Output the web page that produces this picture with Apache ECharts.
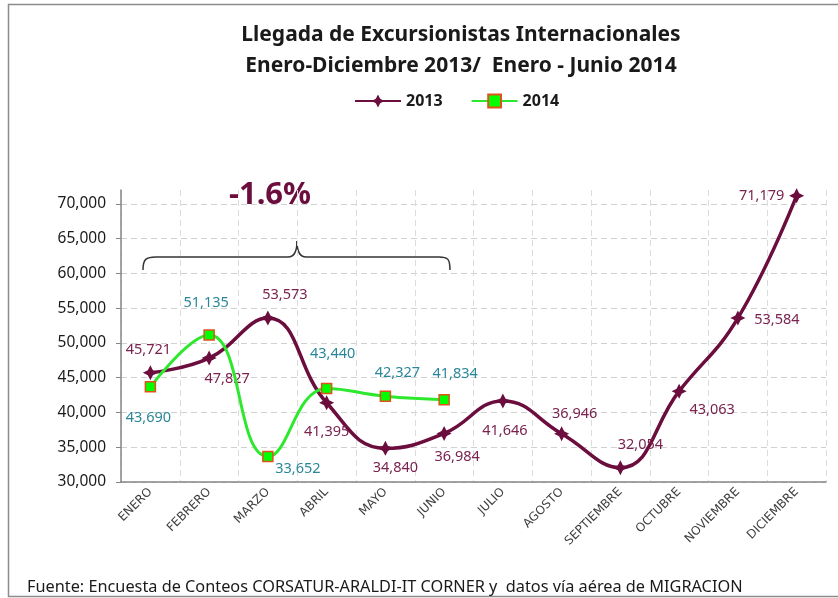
<!DOCTYPE html>
<html>
<head>
<meta charset="utf-8">
<script src="https://cdn.jsdelivr.net/npm/echarts@6/dist/echarts.min.js"></script>
<style>
  html, body { margin: 0; padding: 0; background: #fff; }
  #chart { width: 838px; height: 598px; }
</style>
</head>
<body>
<div id="chart"></div>
<script>
// datos
const meses = ['ENERO', 'FEBRERO', 'MARZO', 'ABRIL', 'MAYO', 'JUNIO', 'JULIO', 'AGOSTO', 'SEPTIEMBRE', 'OCTUBRE', 'NOVIEMBRE', 'DICIEMBRE']
const datos2013 = [45721, 47827, 53573, 41395, 34840, 36984, 41646, 36946, 32054, 43063, 53584, 71179]
const datos2014 = [43690, 51135, 33652, 43440, 42327, 41834]
const yTicks = [30000, 35000, 40000, 45000, 50000, 55000, 60000, 65000, 70000]
const variacion = '-1.6%'

// posicion de etiquetas (px respecto al punto)
const off2013 = [[-2, -23], [18, 21], [17, -23], [0, 29], [10, 20], [13, 23], [2, 30], [13, -20], [20, -23], [33, 19], [39, 2], [-35, 0]]
const off2014 = [[-2, 31], [-3, -32], [30, 12], [6, -35], [12, -23], [11, -26]]

const fmt = v => v.toLocaleString('en-US')
const FONT = '"Noto Sans", sans-serif'
const STAR = 'path://M10,0 L13.4,6.6 L20,10 L13.4,13.4 L10,20 L6.6,13.4 L0,10 L6.6,6.6 Z'

const myChart = echarts.init(document.querySelector('#chart'))

// llave sobre enero-junio
const braceStyle = { fill: null, stroke: '#333', lineWidth: 1.5 }
const brace = [
    { type: 'bezierCurve', shape: { x1: 143, y1: 270, cpx1: 143, cpy1: 259, cpx2: 146, cpy2: 257, x2: 156, y2: 257 } },
    { type: 'line', shape: { x1: 156, y1: 257, x2: 288, y2: 257 } },
    { type: 'bezierCurve', shape: { x1: 288, y1: 257, cpx1: 294, cpy1: 257, cpx2: 297, cpy2: 252, x2: 297, y2: 241 } },
    { type: 'bezierCurve', shape: { x1: 297, y1: 241, cpx1: 297, cpy1: 252, cpx2: 300, cpy2: 257, x2: 306, y2: 257 } },
    { type: 'line', shape: { x1: 306, y1: 257, x2: 439, y2: 257 } },
    { type: 'bezierCurve', shape: { x1: 439, y1: 257, cpx1: 448, cpy1: 257, cpx2: 450, cpy2: 259, x2: 450, y2: 270 } }
].map(el => ({ ...el, style: braceStyle, silent: true }))

const option = {
    animation: false,
    textStyle: { fontFamily: FONT },
    title: {
        text: 'Llegada de Excursionistas Internacionales\nEnero-Diciembre 2013/  Enero - Junio 2014',
        left: 456,
        textAlign: 'center',
        top: 15,
        textStyle: {
            fontSize: 21,
            fontWeight: 'bold',
            color: '#1a1a1a',
            lineHeight: 31,
            fontFamily: FONT
        }
    },
    legend: {
        top: 88,
        left: 349,
        itemWidth: 46,
        itemHeight: 16,
        itemGap: 28,
        textStyle: { fontSize: 16, fontWeight: 'bold', color: '#1a1a1a', fontFamily: FONT }
    },
    grid: {
        left: 121,
        right: 12,
        top: 190,
        bottom: 116
    },
    xAxis: {
        type: 'category',
        data: meses,
        axisLine: { lineStyle: { color: '#868686', width: 1.5 } },
        axisTick: { length: 5, lineStyle: { color: '#868686' } },
        axisLabel: {
            rotate: 45,
            fontSize: 12,
            color: '#404040',
            margin: 8,
            fontFamily: '"DejaVu Sans", sans-serif'
        },
        splitLine: {
            show: true,
            lineStyle: { type: [6, 4], color: '#dcdcdc' }
        }
    },
    yAxis: {
        type: 'value',
        min: 30000,
        max: 72000,
        interval: 5000,
        axisLine: { show: true, lineStyle: { color: '#868686', width: 1.5 } },
        axisTick: { show: true, length: 5, lineStyle: { color: '#868686' }, customValues: yTicks },
        axisLabel: {
            fontSize: 15.5,
            color: '#1a1a1a',
            margin: 15,
            customValues: yTicks,
            formatter: v => fmt(v),
            fontFamily: FONT
        },
        splitLine: {
            lineStyle: { type: [6, 4], color: '#d0d0d0' }
        }
    },
    series: [
        {
            name: '2013',
            type: 'line',
            smooth: 0.45,
            clip: false,
            symbol: STAR,
            symbolSize: 15,
            lineStyle: { width: 3.5, color: '#6b0d3d' },
            itemStyle: { color: '#6b0d3d' },
            data: datos2013.map((v, i) => ({
                value: v,
                label: {
                    show: true,
                    position: 'inside',
                    offset: off2013[i],
                    formatter: p => fmt(p.value),
                    fontSize: 14.5,
                    color: '#7a2250',
                    fontFamily: FONT
                }
            })),
            z: 3
        },
        {
            name: '2014',
            type: 'line',
            smooth: 0.45,
            symbol: 'rect',
            symbolSize: 10,
            lineStyle: { width: 3, color: '#2ee82e' },
            itemStyle: { color: '#00ff00', borderColor: '#e0521c', borderWidth: 1.5 },
            data: datos2014.map((v, i) => ({
                value: v,
                label: {
                    show: true,
                    position: 'inside',
                    offset: off2014[i],
                    formatter: p => fmt(p.value),
                    fontSize: 14.5,
                    color: '#2a8799',
                    fontFamily: FONT
                }
            })),
            z: 4
        }
    ],
    graphic: [
        // marco exterior
        {
            type: 'rect',
            shape: { x: 8.5, y: 4.5, width: 840, height: 592 },
            style: { fill: null, stroke: '#8c8c8c', lineWidth: 1.5 },
            silent: true
        },
        ...brace,
        {
            type: 'text',
            left: 229,
            top: 180,
            style: {
                text: variacion,
                font: 'bold 31px ' + FONT,
                fill: '#6b0d3d'
            }
        },
        {
            type: 'text',
            left: 27,
            top: 579,
            style: {
                text: 'Fuente: Encuesta de Conteos CORSATUR-ARALDI-IT CORNER y  datos vía aérea de MIGRACION',
                font: '16.3px ' + FONT,
                fill: '#1a1a1a'
            }
        }
    ]
}

myChart.setOption(option)
</script>
</body>
</html>
